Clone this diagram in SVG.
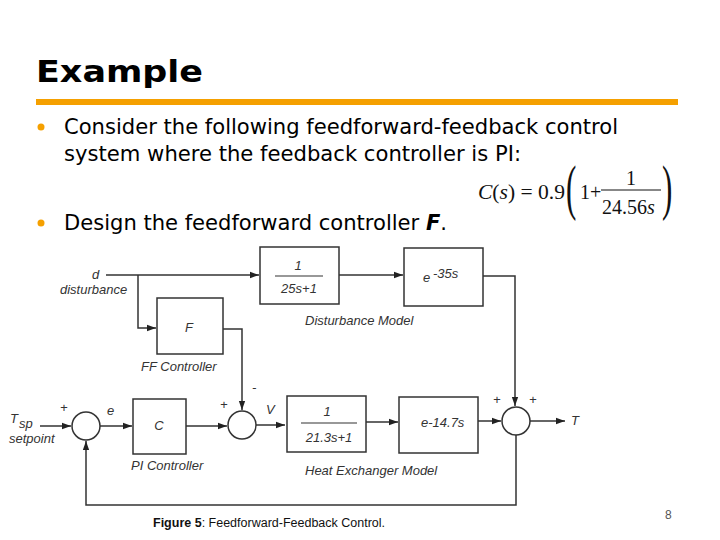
<svg xmlns="http://www.w3.org/2000/svg" width="720" height="540" viewBox="0 0 720 540">
<style>
.t{font-family:"DejaVu Sans Condensed","DejaVu Sans",sans-serif;fill:#000}
.lb{font-family:"Liberation Sans",Arial,sans-serif;font-style:italic;font-size:13px;fill:#333}
.tm{font-family:"Liberation Serif","Times New Roman",serif;fill:#111}
.box{fill:#fff;stroke:#333;stroke-width:1.5}
.ln{fill:none;stroke:#333;stroke-width:1.5}
</style>
<defs>
<marker id="ar" viewBox="0 0 10 10" refX="10" refY="5" markerWidth="9" markerHeight="9" orient="auto" markerUnits="userSpaceOnUse">
<path d="M0,1.5 L10,5 L0,8.5 z" fill="#222"/>
</marker>
</defs>
<rect width="720" height="540" fill="#fff"/>
<text x="36" y="82" style="font-family:'DejaVu Sans',Verdana,sans-serif;font-weight:bold;font-size:30px" textLength="167" lengthAdjust="spacingAndGlyphs">Example</text>
<rect x="36" y="99" width="642" height="6" fill="#F5A000"/>
<circle cx="41" cy="127" r="3.5" fill="#F5A000"/>
<circle cx="41" cy="223" r="3.5" fill="#F5A000"/>
<text class="t" x="64" y="134" font-size="21" textLength="554" lengthAdjust="spacingAndGlyphs">Consider the following feedforward-feedback control</text>
<text class="t" x="64" y="161" font-size="21" textLength="457" lengthAdjust="spacingAndGlyphs">system where the feedback controller is PI:</text>
<text class="t" x="64" y="230" font-size="21" textLength="383" lengthAdjust="spacingAndGlyphs">Design the feedforward controller <tspan font-weight="bold" font-style="italic">F</tspan>.</text>
<g id="formula">
<text class="tm" x="478" y="199" font-size="20" textLength="87" lengthAdjust="spacingAndGlyphs"><tspan font-style="italic">C</tspan>(<tspan font-style="italic">s</tspan>) = 0.9</text>
<text class="tm" x="566" y="208" font-size="62" transform="translate(566 208) scale(0.5 1) translate(-566 -208)">(</text>
<text class="tm" x="580" y="199" font-size="20">1+</text>
<text class="tm" x="626" y="185" font-size="20">1</text>
<line x1="601" y1="190" x2="661" y2="190" stroke="#111" stroke-width="1"/>
<text class="tm" x="602" y="214" font-size="20">24.56<tspan font-style="italic">s</tspan></text>
<text class="tm" x="662" y="208" font-size="62" transform="translate(662 208) scale(0.5 1) translate(-662 -208)">)</text>
</g>
<g id="connectors">
<path class="ln" d="M106,275 H259" marker-end="url(#ar)"/>
<path class="ln" d="M138,275 V328 H156" marker-end="url(#ar)"/>
<path class="ln" d="M339,275 H403" marker-end="url(#ar)"/>
<path class="ln" d="M483,276 H515 V406" marker-end="url(#ar)"/>
<path class="ln" d="M223,329 H242 V410" marker-end="url(#ar)"/>
<path class="ln" d="M40,426 H71" marker-end="url(#ar)"/>
<path class="ln" d="M100,426 H132" marker-end="url(#ar)"/>
<path class="ln" d="M186,426 H227" marker-end="url(#ar)"/>
<path class="ln" d="M256,425 H285" marker-end="url(#ar)"/>
<path class="ln" d="M366,422 H398" marker-end="url(#ar)"/>
<path class="ln" d="M478,421 H501" marker-end="url(#ar)"/>
<path class="ln" d="M530,421 H565" marker-end="url(#ar)"/>
<path class="ln" d="M516,435 V505 H86 V441" marker-end="url(#ar)"/>
</g>
<g id="dist-in">
<text class="lb" x="92" y="279">d</text>
<text class="lb" x="60" y="294">disturbance</text>
</g>
<g id="box1">
<rect class="box" x="260" y="247" width="79" height="57"/>
<text class="lb" x="298" y="270" text-anchor="middle">1</text>
<line x1="275" y1="276" x2="323" y2="276" stroke="#333" stroke-width="1.2"/>
<text class="lb" x="299" y="293" text-anchor="middle">25s+1</text>
</g>
<g id="box2">
<rect class="box" x="404" y="248" width="79" height="58"/>
<text class="lb" x="423" y="282">e</text>
<text class="lb" x="433" y="278" font-size="11">-35s</text>
<text class="lb" x="305" y="325">Disturbance Model</text>
</g>
<g id="ff">
<rect class="box" x="157" y="298" width="66" height="56"/>
<text class="lb" x="189" y="332" text-anchor="middle" font-size="14">F</text>
<text class="lb" x="141" y="371">FF Controller</text>
</g>
<g id="sum1">
<circle class="box" cx="86" cy="426" r="14"/>
<text class="lb" x="10" y="423" font-size="14">T</text>
<text class="lb" x="19" y="428" font-size="12">sp</text>
<text class="lb" x="9" y="443">setpoint</text>
<text class="lb" x="60" y="412" font-style="normal">+</text>
<text class="lb" x="107" y="415">e</text>
</g>
<g id="pi">
<rect class="box" x="133" y="399" width="53" height="55"/>
<text class="lb" x="159" y="430" text-anchor="middle">C</text>
<text class="lb" x="131" y="470">PI Controller</text>
</g>
<g id="sum2">
<circle class="box" cx="242" cy="425" r="14"/>
<text class="lb" x="220" y="409" font-style="normal">+</text>
<text class="lb" x="252" y="392" font-style="normal">-</text>
<text class="lb" x="266" y="414">V</text>
</g>
<g id="box3">
<rect class="box" x="287" y="396" width="79" height="56"/>
<text class="lb" x="327" y="416" text-anchor="middle">1</text>
<line x1="301" y1="423" x2="357" y2="423" stroke="#333" stroke-width="1.2"/>
<text class="lb" x="329" y="442" text-anchor="middle">21.3s+1</text>
</g>
<g id="box4">
<rect class="box" x="399" y="397" width="79" height="56"/>
<text class="lb" x="421" y="427">e-14.7s</text>
<text class="lb" x="305" y="475">Heat Exchanger Model</text>
</g>
<g id="sum3">
<circle class="box" cx="516" cy="421" r="14"/>
<text class="lb" x="493" y="404" font-style="normal">+</text>
<text class="lb" x="529" y="404" font-style="normal">+</text>
<text class="lb" x="571" y="425">T</text>
</g>
<text x="153" y="527" style="font-family:'Liberation Sans',Arial,sans-serif;font-size:12.5px;fill:#111"><tspan font-weight="bold">Figure 5</tspan>: Feedforward-Feedback Control.</text>
<text x="665" y="519" style="font-family:'Liberation Sans',Arial,sans-serif;font-size:12px;fill:#555">8</text>
</svg>
